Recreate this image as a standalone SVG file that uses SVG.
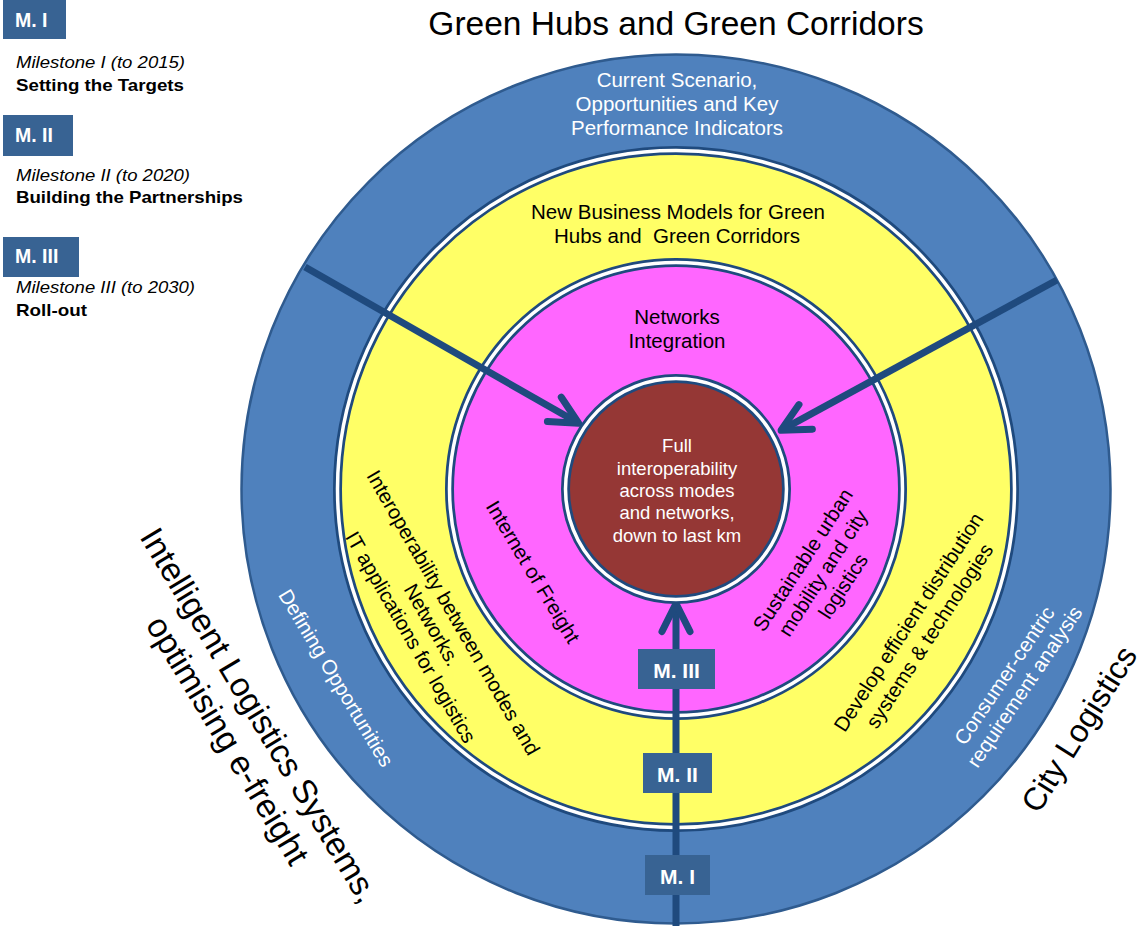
<svg xmlns="http://www.w3.org/2000/svg" width="1144" height="926" viewBox="0 0 1144 926">
<defs>
<style>
text{font-family:"Liberation Sans",Arial,sans-serif}
.ring{stroke:#1f4a7e;stroke-width:9}
.gap{fill:none;stroke:#fff;stroke-width:3.5}
.t{font-size:20.5px;fill:#000;text-anchor:middle}
.w{font-size:20.5px;fill:#fff;text-anchor:middle}
.c{font-size:18.5px;fill:#fff;text-anchor:middle}
.big{font-size:33.5px;fill:#000;text-anchor:middle}
.mbox{fill:#386393}
.mt{font-size:21px;font-weight:bold;fill:#fff;text-anchor:middle}
.lm{font-size:19.5px;font-weight:bold;fill:#fff}
.it{font-size:16px;font-style:italic;fill:#000}
.bd{font-size:17px;font-weight:bold;fill:#000}
.arrow{stroke:#1f4a7e;stroke-width:7;fill:none;marker-end:url(#chev)}
</style>
<marker id="chev" markerUnits="userSpaceOnUse" orient="auto" refX="-4" refY="0" markerWidth="80" markerHeight="80" viewBox="-40 -40 80 80" overflow="visible">
<path d="M-28,-14 L0,0 L-28,14" fill="none" stroke="#1f4a7e" stroke-width="7" stroke-linecap="round" stroke-linejoin="round"/>
</marker>
</defs>
<rect width="1144" height="926" fill="#fff"/>

<g id="title">
<text class="big" x="676" y="35">Green Hubs and Green Corridors</text>
</g>

<g id="legend">
<g id="legend-m1">
<rect class="mbox" x="3" y="0" width="63" height="39"/>
<text class="lm" x="15" y="27">M. I</text>
<text class="it" x="16" y="68" textLength="169" lengthAdjust="spacingAndGlyphs">Milestone I (to 2015)</text>
<text class="bd" x="16" y="91" textLength="168" lengthAdjust="spacingAndGlyphs">Setting the Targets</text>
</g>
<g id="legend-m2">
<rect class="mbox" x="3" y="115" width="70" height="41"/>
<text class="lm" x="15" y="142">M. II</text>
<text class="it" x="16" y="181" textLength="174" lengthAdjust="spacingAndGlyphs">Milestone II (to 2020)</text>
<text class="bd" x="16" y="203" textLength="227" lengthAdjust="spacingAndGlyphs">Building the Partnerships</text>
</g>
<g id="legend-m3">
<rect class="mbox" x="3" y="237" width="76" height="40"/>
<text class="lm" x="15" y="263">M. III</text>
<text class="it" x="16" y="293" textLength="179" lengthAdjust="spacingAndGlyphs">Milestone III (to 2030)</text>
<text class="bd" x="16" y="316" textLength="71" lengthAdjust="spacingAndGlyphs">Roll-out</text>
</g>
</g>

<g id="ring-outer">
<circle cx="676" cy="489" r="434.5" fill="#4f81bd" stroke="#2f5b8f" stroke-width="2.5"/>
<text class="w" x="677" y="87">Current Scenario,</text>
<text class="w" x="677" y="111">Opportunities and Key</text>
<text class="w" x="677" y="135">Performance Indicators</text>
<text class="w" transform="translate(336,678) rotate(59)" y="7">Defining Opportunities</text>
<g transform="translate(1014,682) rotate(-56)">
<text class="w" y="-4.5">Consumer-centric</text>
<text class="w" x="2" y="18.5">requirement analysis</text>
</g>
</g>

<g id="ring-yellow">
<circle class="ring" cx="676" cy="489" r="338.5" fill="#ffff66"/>
<circle class="gap" cx="676" cy="489" r="338.5"/>
<text class="t" x="678" y="219">New Business Models for Green</text>
<text class="t" x="677" y="243">Hubs and&#160; Green Corridors</text>
<g transform="translate(432,625) rotate(60)">
<text class="t" y="-17.5">Interoperability between modes and</text>
<text class="t" y="7">Networks.</text>
<text class="t" y="31.5">IT applications for logistics</text>
</g>
<g transform="translate(919,629) rotate(-57)">
<text class="t" y="-5.5">Develop efficient distribution</text>
<text class="t" y="19.5">systems &amp; technologies</text>
</g>
</g>

<g id="ring-magenta">
<circle class="ring" cx="676" cy="489" r="226.5" fill="#ff66ff"/>
<circle class="gap" cx="676" cy="489" r="226.5"/>
<text class="t" x="677" y="324">Networks</text>
<text class="t" x="677" y="348">Integration</text>
<text class="t" transform="translate(533,572) rotate(59)" y="7">Internet of Freight</text>
<g transform="translate(823,573) rotate(-57)">
<text class="t" y="-17">Sustainable urban</text>
<text class="t" y="7">mobility and city</text>
<text class="t" y="31">logistics</text>
</g>
</g>

<g id="connectors">
<path class="arrow" d="M305,267 L575.2,421.3"/>
<path class="arrow" d="M1057,280 L784.6,428.4"/>
<path class="arrow" d="M676,926 L676,607.5"/>
</g>

<g id="core">
<circle class="ring" cx="676" cy="489" r="110.5" fill="#953735"/>
<circle class="gap" cx="676" cy="489" r="110.5"/>
<text class="c" x="677" y="452">Full</text>
<text class="c" x="677" y="475">interoperability</text>
<text class="c" x="677" y="497">across modes</text>
<text class="c" x="677" y="519">and networks,</text>
<text class="c" x="677" y="542">down to last km</text>
</g>

<g id="m3">
<rect class="mbox" x="638" y="649" width="77" height="40"/>
<text class="mt" x="676.5" y="678">M. III</text>
</g>
<g id="m2">
<rect class="mbox" x="643" y="753" width="69" height="40"/>
<text class="mt" x="677.5" y="782">M. II</text>
</g>
<g id="m1">
<rect class="mbox" x="645" y="855" width="65" height="40"/>
<text class="mt" x="677.5" y="884">M. I</text>
</g>

<g id="side-labels">
<g transform="translate(260,715) rotate(59)">
<text class="big" y="12">Intelligent Logistics Systems,</text>
<text class="big" x="5" y="52">optimising e-freight</text>
</g>
<text class="big" style="font-size:32px" transform="translate(1079,729) rotate(-58)" y="11">City Logistics</text>
</g>
</svg>
